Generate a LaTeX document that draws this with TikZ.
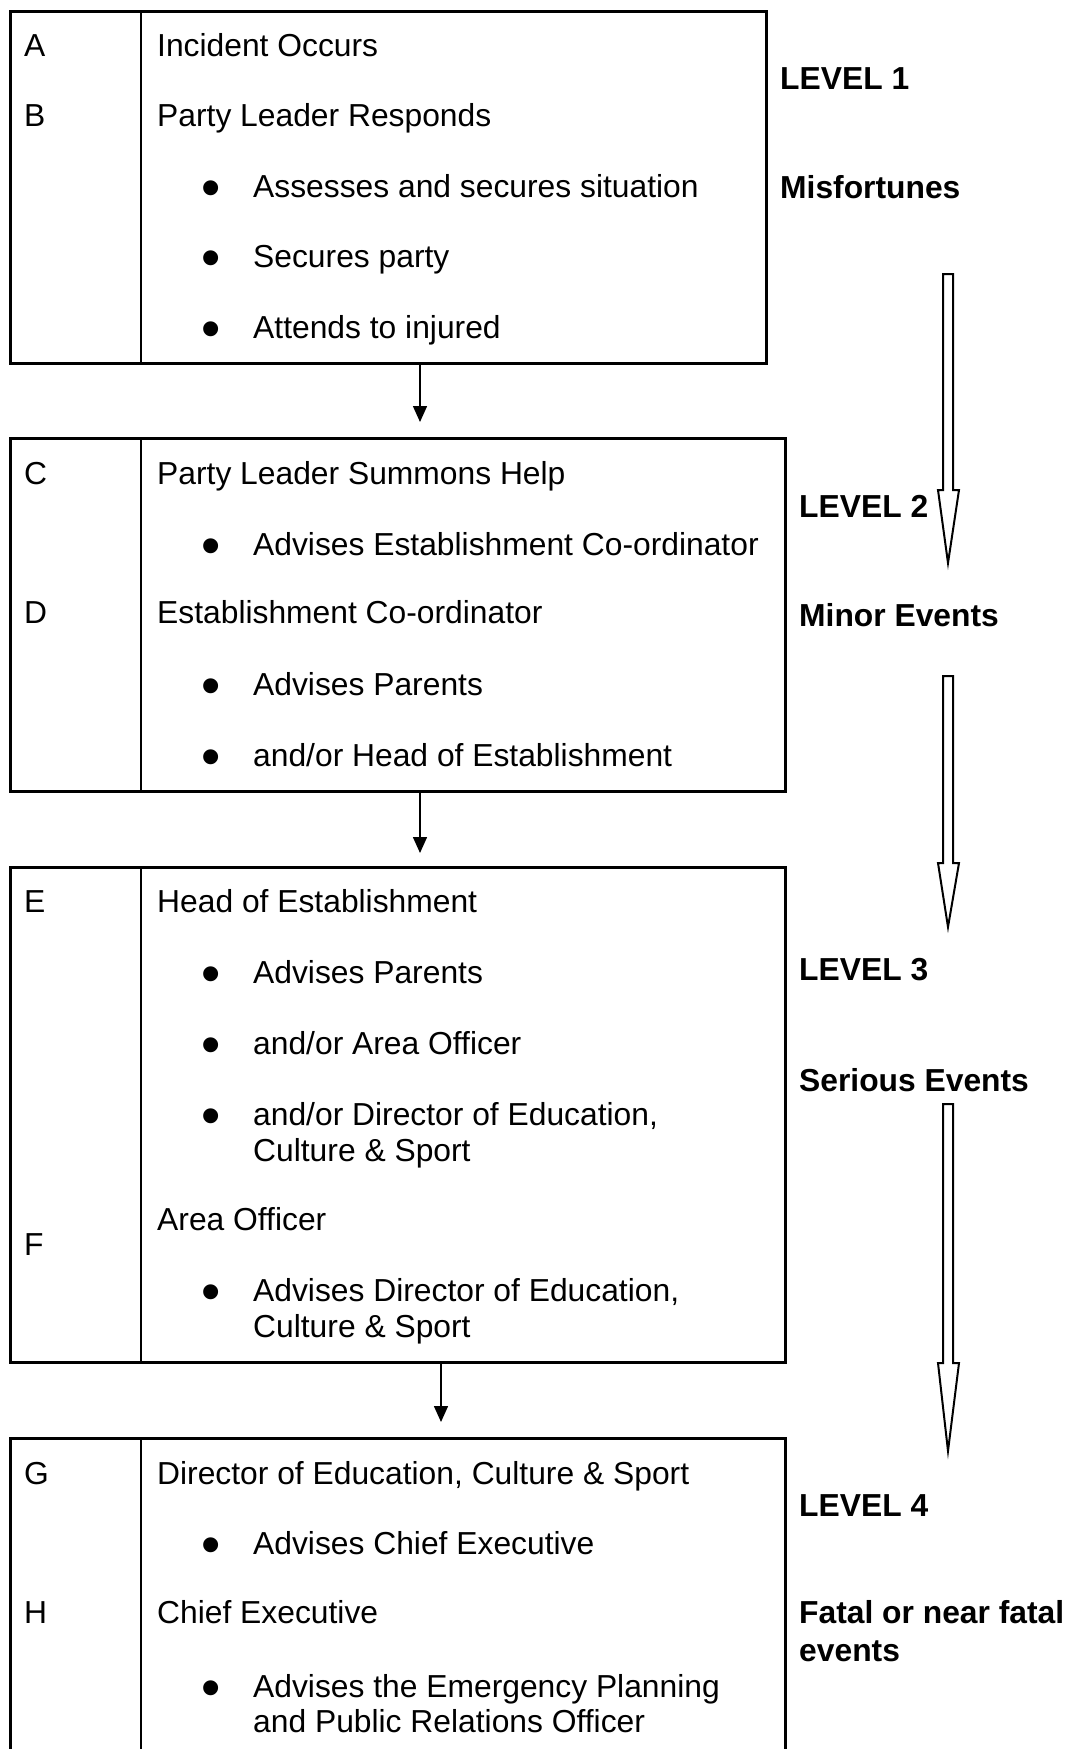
\documentclass[tikz,border=0pt]{standalone}
\usepackage{fontspec}
\setmainfont{Liberation Sans}
\usetikzlibrary{arrows.meta}
\newcommand\myfs{\fontsize{31.8}{36}\selectfont}
\newcommand\mybfs{\fontsize{55}{55}\selectfont}
\begin{document}
\begin{tikzpicture}[x=1pt,y=-1pt,
  box/.style={draw, line width=2.5pt, inner sep=0pt, anchor=north west},
  divider/.style={line width=2.5pt},
  txt/.style={anchor=base west, inner sep=0pt, font=\myfs},
  lvl/.style={anchor=base west, inner sep=0pt, font=\myfs\bfseries},
  bul/.style={anchor=base, inner sep=0pt, font=\mybfs, yshift=-9.5pt},
  arr/.style={line width=1.5pt, -{Triangle[length=16pt,width=14pt]}},
  hollow/.style={draw, line width=2pt, fill=white, line join=miter}]
\useasboundingbox (0,0) rectangle (1071,1749);
\clip (0,0) rectangle (1071,1749);

% boxes
\node[box, minimum width=756pt, minimum height=352pt] (b1) at (9,10) {};
\node[box, minimum width=775pt, minimum height=353pt] (b2) at (9,437) {};
\node[box, minimum width=775pt, minimum height=495pt] (b3) at (9,866) {};
\node[box, minimum width=775pt, minimum height=380pt] (b4) at (9,1437) {};
\coordinate (dv) at (141,0);
\foreach \b in {b1,b2,b3,b4}{
  \draw[divider] (\b.north west -| dv) -- (\b.south west -| dv);
}

% box 1
\node[txt] (tA) at (24,56) {A};
\node[txt] (t1a) at (157,56) {Incident Occurs};
\node[txt] (tB) at (24,126) {B};
\node[txt] (t1b) at (157,126) {Party Leader Responds};
\node[bul] (u11) at (211,197) {•};
\node[txt] (t11) at (253,197) {Assesses and secures situation};
\node[bul] (u12) at (211,267) {•};
\node[txt] (t12) at (253,267) {Secures party};
\node[bul] (u13) at (211,338) {•};
\node[txt] (t13) at (253,338) {Attends to injured};

% box 2
\node[txt] (tC) at (24,484) {C};
\node[txt] (t2a) at (157,484) {Party Leader Summons Help};
\node[bul] (u21) at (211,555) {•};
\node[txt] (t21) at (253,555) {Advises Establishment Co-ordinator};
\node[txt] (tD) at (24,623) {D};
\node[txt] (t2b) at (157,623) {Establishment Co-ordinator};
\node[bul] (u22) at (211,695) {•};
\node[txt] (t22) at (253,695) {Advises Parents};
\node[bul] (u23) at (211,766) {•};
\node[txt] (t23) at (253,766) {and/or Head of Establishment};

% box 3
\node[txt] (tE) at (24,912) {E};
\node[txt] (t3a) at (157,912) {Head of Establishment};
\node[bul] (u31) at (211,983) {•};
\node[txt] (t31) at (253,983) {Advises Parents};
\node[bul] (u32) at (211,1054) {•};
\node[txt] (t32) at (253,1054) {and/or Area Officer};
\node[bul] (u33) at (211,1125) {•};
\node[txt] (t33) at (253,1125) {and/or Director of Education,};
\node[txt] (t33b) at (253,1161) {Culture \& Sport};
\node[txt] (t3b) at (157,1230) {Area Officer};
\node[txt] (tF) at (24,1255) {F};
\node[bul] (u34) at (211,1301) {•};
\node[txt] (t34) at (253,1301) {Advises Director of Education,};
\node[txt] (t34b) at (253,1337) {Culture \& Sport};

% box 4
\node[txt] (tG) at (24,1484) {G};
\node[txt] (t4a) at (157,1484) {Director of Education, Culture \& Sport};
\node[bul] (u41) at (211,1554) {•};
\node[txt] (t41) at (253,1554) {Advises Chief Executive};
\node[txt] (tH) at (24,1623) {H};
\node[txt] (t4b) at (157,1623) {Chief Executive};
\node[bul] (u42) at (211,1697) {•};
\node[txt] (t42) at (253,1697) {Advises the Emergency Planning};
\node[txt] (t42b) at (253,1732) {and Public Relations Officer};

% level labels
\node[lvl] (l1) at (780,89) {LEVEL 1};
\node[lvl] (m1) at (780,198) {Misfortunes};
\node[lvl] (l2) at (799,517) {LEVEL 2};
\node[lvl] (m2) at (799,626) {Minor Events};
\node[lvl] (l3) at (799,980) {LEVEL 3};
\node[lvl] (m3) at (799,1091) {Serious Events};
\node[lvl] (l4) at (799,1516) {LEVEL 4};
\node[lvl] (m4) at (799,1623) {Fatal or near fatal};
\node[lvl] (m4b) at (799,1661) {events};

% small connectors
\coordinate (k1) at (420,422);
\coordinate (k2) at (420,853);
\coordinate (k3) at (441,1422);
\draw[arr] (b1.south -| k1) -- (k1);
\draw[arr] (b2.south -| k2) -- (k2);
\draw[arr] (b3.south -| k3) -- (k3);

% hollow level arrows
\draw[hollow] (943,274) -- (953,274) -- (953,490) -- (959,490) -- (948,563) -- (938,490) -- (943,490) -- cycle;
\draw[hollow] (943,676) -- (953,676) -- (953,863) -- (959,863) -- (948,927) -- (938,863) -- (943,863) -- cycle;
\draw[hollow] (943,1104) -- (953,1104) -- (953,1363) -- (959,1363) -- (948,1451) -- (938,1363) -- (943,1363) -- cycle;
\end{tikzpicture}
\end{document}
